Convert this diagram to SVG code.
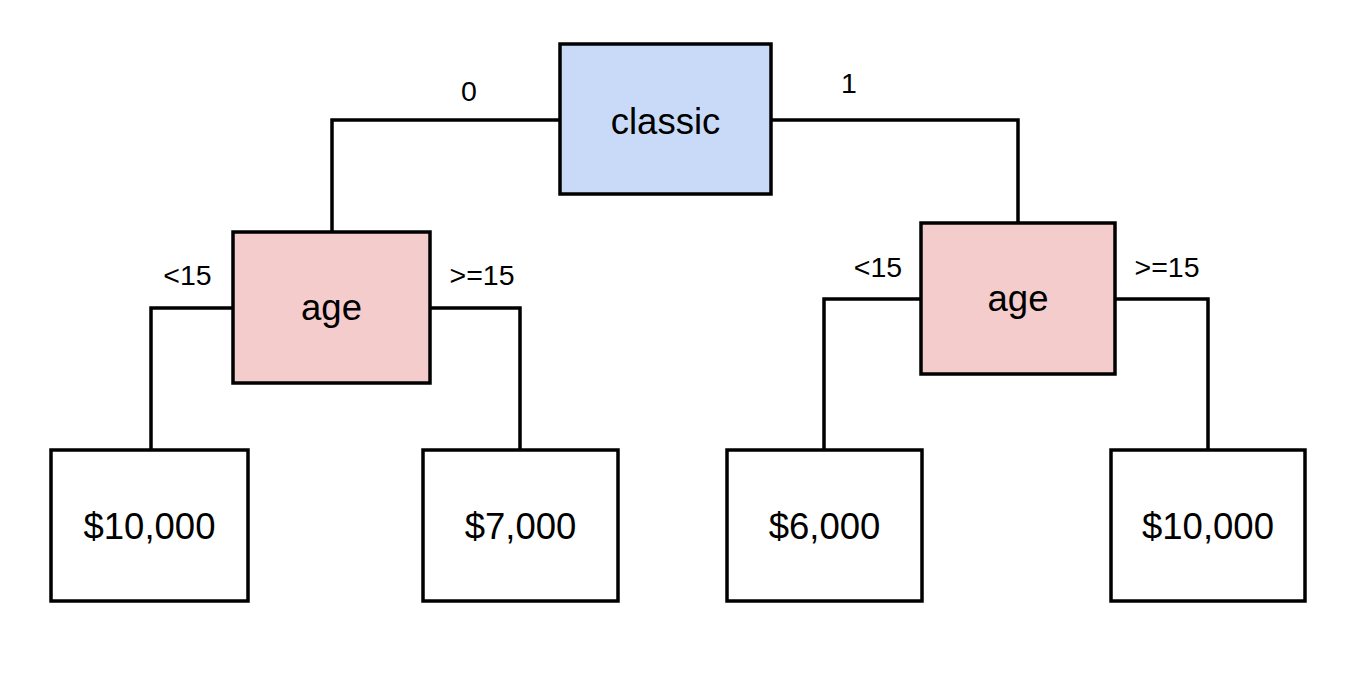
<svg xmlns="http://www.w3.org/2000/svg" width="1359" height="683" viewBox="0 0 1359 683">
<style>
.box{stroke:#000;stroke-width:3.5;}
.blue{fill:#c9daf8;}
.red{fill:#f4cccc;}
.white{fill:#fff;}
.big{font-family:"Liberation Sans",Arial,sans-serif;font-size:36.5px;fill:#000;text-anchor:middle;}
.lbl{font-family:"Liberation Sans",Arial,sans-serif;font-size:28.5px;fill:#000;text-anchor:middle;}
.edge{fill:none;stroke:#000;stroke-width:3.5;}
</style>
<rect width="1359" height="683" fill="#fff"/>
<g id="connectors">
<path class="edge" d="M560,120 H332 V232"/>
<path class="edge" d="M771,120 H1018 V223"/>
<path class="edge" d="M233,308 H151 V450"/>
<path class="edge" d="M430,308 H520 V450"/>
<path class="edge" d="M921,299 H824 V450"/>
<path class="edge" d="M1115,299 H1208 V450"/>
<text class="lbl" x="469" y="100.5">0</text>
<text class="lbl" x="849" y="92.5">1</text>
<text class="lbl" x="187.5" y="284.5">&lt;15</text>
<text class="lbl" x="482" y="284.5">&gt;=15</text>
<text class="lbl" x="878" y="276.5">&lt;15</text>
<text class="lbl" x="1167" y="276.5">&gt;=15</text>
</g>
<g id="classic">
<rect class="box blue" x="560" y="44" width="211" height="150"/>
<text class="big" x="665.5" y="134">classic</text>
</g>
<g id="age-left">
<rect class="box red" x="233" y="232" width="197" height="151"/>
<text class="big" x="331.5" y="320">age</text>
</g>
<g id="age-right">
<rect class="box red" x="921" y="223" width="194" height="151"/>
<text class="big" x="1018" y="311">age</text>
</g>
<g id="leaf1">
<rect class="box white" x="51" y="450" width="197" height="151"/>
<text class="big" x="149.5" y="539">$10,000</text>
</g>
<g id="leaf2">
<rect class="box white" x="423" y="450" width="195" height="151"/>
<text class="big" x="520.5" y="539">$7,000</text>
</g>
<g id="leaf3">
<rect class="box white" x="727" y="450" width="195" height="151"/>
<text class="big" x="824.5" y="539">$6,000</text>
</g>
<g id="leaf4">
<rect class="box white" x="1111" y="450" width="194" height="151"/>
<text class="big" x="1208" y="539">$10,000</text>
</g>
</svg>
